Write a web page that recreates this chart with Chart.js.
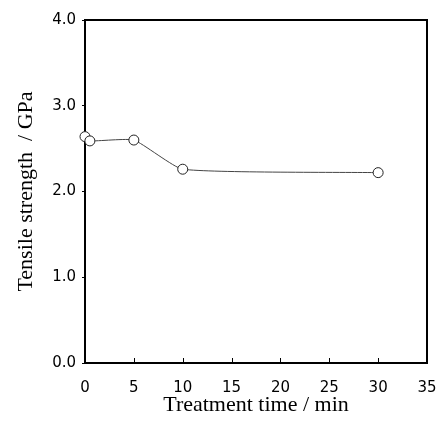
<!DOCTYPE html>
<html>
<head>
<meta charset="utf-8">
<script src="https://cdn.jsdelivr.net/npm/chart.js@4/dist/chart.umd.min.js"></script>
<style>
  html, body { margin: 0; padding: 0; background: #fff; }
  #wrap { width: 438px; height: 427px; }
</style>
</head>
<body>
<div id="wrap"><canvas id="tensileChart"></canvas></div>
<script>
"use strict";

// treatment time (min) and tensile strength (GPa)
const treatmentTimes = [0, 0.5, 5, 10, 30];
const tensileStrength = [2.64, 2.59, 2.60, 2.26, 2.22];
const xTickValues = [0, 5, 10, 15, 20, 25, 30, 35];
const yTickValues = [0.0, 1.0, 2.0, 3.0, 4.0];

const SANS = "'DejaVu Sans', Verdana, sans-serif";
const SERIF = "'Liberation Serif', 'Times New Roman', serif";

// frame round the plot and the inward ticks on the bottom axis
const framePlugin = {
  id: "frame",
  beforeDatasetsDraw(chart) {
    const ctx = chart.ctx;
    const a = chart.chartArea;
    const x = chart.scales.x;
    ctx.save();
    ctx.strokeStyle = "#000";
    ctx.lineWidth = 2;
    ctx.strokeRect(a.left, a.top, a.right - a.left, a.bottom - a.top);
    ctx.lineWidth = 1;
    ctx.beginPath();
    for (const t of xTickValues) {
      const px = Math.round(x.getPixelForValue(t)) + 0.5;
      ctx.moveTo(px, a.bottom);
      ctx.lineTo(px, a.bottom - 5);
    }
    ctx.stroke();
    ctx.restore();
  }
};

new Chart(document.getElementById("tensileChart"), {
  type: "scatter",
  data: {
    datasets: [{
      data: treatmentTimes.map((t, i) => ({x: t, y: tensileStrength[i]})),
      showLine: true,
      borderColor: "#444",
      borderWidth: 1,
      tension: 0.15,
      pointRadius: 5,
      pointHoverRadius: 5,
      pointBackgroundColor: "#fff",
      pointBorderColor: "#222",
      pointBorderWidth: 1,
      clip: false
    }]
  },
  options: {
    responsive: true,
    maintainAspectRatio: false,
    animation: false,
    layout: { padding: { top: 20, right: 11, left: 0, bottom: 0 } },
    plugins: {
      legend: { display: false },
      tooltip: { enabled: false }
    },
    scales: {
      x: {
        type: "linear",
        min: 0,
        max: 35,
        afterBuildTicks: (axis) => { axis.ticks = xTickValues.map(v => ({value: v})); },
        afterFit: (axis) => {
          axis.height = 64;
          axis.paddingLeft = 0;
          axis.paddingRight = 0;
        },
        grid: { display: false, drawTicks: false },
        border: { display: false },
        ticks: {
          color: "#000",
          padding: 16,
          font: { family: SANS, size: 15 }
        },
        title: {
          display: true,
          text: "Treatment time / min",
          color: "#000",
          padding: { top: 0, bottom: 9 },
          font: { family: SERIF, size: 22 }
        }
      },
      y: {
        min: 0,
        max: 4,
        afterBuildTicks: (axis) => { axis.ticks = yTickValues.map(v => ({value: v})); },
        afterFit: (axis) => { axis.width = 85; },
        grid: { drawOnChartArea: false, color: "#000", tickLength: 3 },
        border: { display: false },
        ticks: {
          color: "#000",
          padding: 6,
          font: { family: SANS, size: 15 },
          callback: (v) => Number(v).toFixed(1)
        },
        title: {
          display: true,
          text: "Tensile strength  / GPa",
          color: "#000",
          padding: { top: 13, bottom: 0 },
          font: { family: SERIF, size: 22 }
        }
      }
    }
  },
  plugins: [framePlugin]
});
</script>
</body>
</html>
